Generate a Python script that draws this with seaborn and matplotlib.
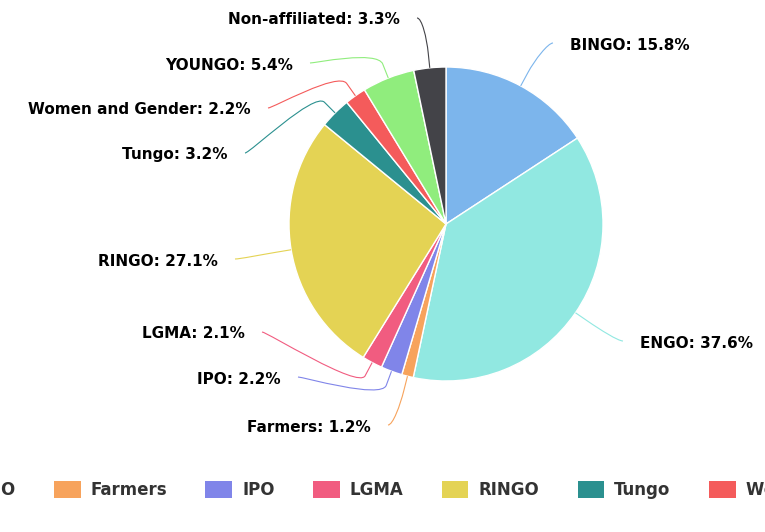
import matplotlib
matplotlib.use("Agg")
import matplotlib.pyplot as plt
from matplotlib.path import Path
from matplotlib.patches import PathPatch, Patch
import numpy as np
import seaborn as sns

# ── 数据 ────────────────────────────────────────────────
groups = ["BINGO", "ENGO", "Farmers", "IPO", "LGMA", "RINGO", "Tungo",
          "Women and Gender", "YOUNGO", "Non-affiliated"]
shares = [15.8, 37.6, 1.2, 2.2, 2.1, 27.1, 3.2, 2.2, 5.4, 3.3]
colors = ["#7cb5ec", "#91e8e1", "#f7a35c", "#8085e9", "#f15c80",
          "#e4d354", "#2b908f", "#f45b5b", "#90ed7d", "#434348"]

# ── 版式（像素坐标） ─────────────────────────────────────
W, H = 765, 532
CX, CY, R = 446, 224, 157
# 连接线在标签一端的位置
label_anchor = {
    "BINGO": (553, 43),
    "ENGO": (623, 341),
    "Farmers": (388, 425),
    "IPO": (298, 377),
    "LGMA": (262, 332),
    "RINGO": (235, 259),
    "Tungo": (245, 153),
    "Women and Gender": (268, 108),
    "YOUNGO": (310, 63),
    "Non-affiliated": (417, 18),
}

sns.set_theme(style="white")
plt.rcParams["font.family"] = ["DejaVu Sans"]
palette = sns.color_palette(colors)

fig = plt.figure(figsize=(W / 100, H / 100), dpi=100)
fig.patch.set_facecolor("white")
ax = fig.add_axes([0, 0, 1, 1])

# y 轴向下（像素方向），所以 counterclock=True 在画面上是顺时针
wedges, _ = ax.pie(shares, colors=palette, startangle=-90, counterclock=True,
                   center=(CX, CY), radius=R,
                   wedgeprops=dict(edgecolor="white", linewidth=1))
ax.set_xlim(0, W)
ax.set_ylim(H, 0)
ax.set_aspect("equal")
ax.axis("off")

# ── 标签 + 软连接线 ──────────────────────────────────────
for w, name, val, col in zip(wedges, groups, shares, palette):
    theta = np.deg2rad((w.theta1 + w.theta2) / 2)
    u = np.array([np.cos(theta), np.sin(theta)])
    touch = np.array([CX, CY]) + R * u
    brk = touch + 15 * u
    ctrl2 = touch + 30 * u
    lx, ly = label_anchor[name]
    left_side = lx < CX
    ctrl1 = (lx + (5 if left_side else -5), ly)
    verts = [(lx, ly), ctrl1, tuple(ctrl2), tuple(brk), tuple(touch)]
    codes = [Path.MOVETO, Path.CURVE4, Path.CURVE4, Path.CURVE4, Path.LINETO]
    ax.add_patch(PathPatch(Path(verts, codes), fill=False, edgecolor=col,
                           linewidth=0.8, zorder=1))
    tx = lx - 17 if left_side else lx + 17
    ax.text(tx, ly + 2, f"{name}: {val:.1f}%", ha="right" if left_side else "left",
            va="center", fontsize=11, fontweight="bold", color="#000000")

# ── 图例（横向滚动，左侧被裁掉） ─────────────────────────
handles = [Patch(facecolor=c, edgecolor="none") for c in palette]
fig.legend(handles, groups, loc="center left", bbox_to_anchor=(-210 / W, 1 - 490 / H),
           ncol=len(groups), frameon=False, borderpad=0, borderaxespad=0,
           handlelength=1.6, handleheight=1.2, handletextpad=0.6, columnspacing=2.3,
           prop=dict(weight="bold", size=12), labelcolor="#333333")

fig.savefig("out.png", dpi=100, facecolor="white")
